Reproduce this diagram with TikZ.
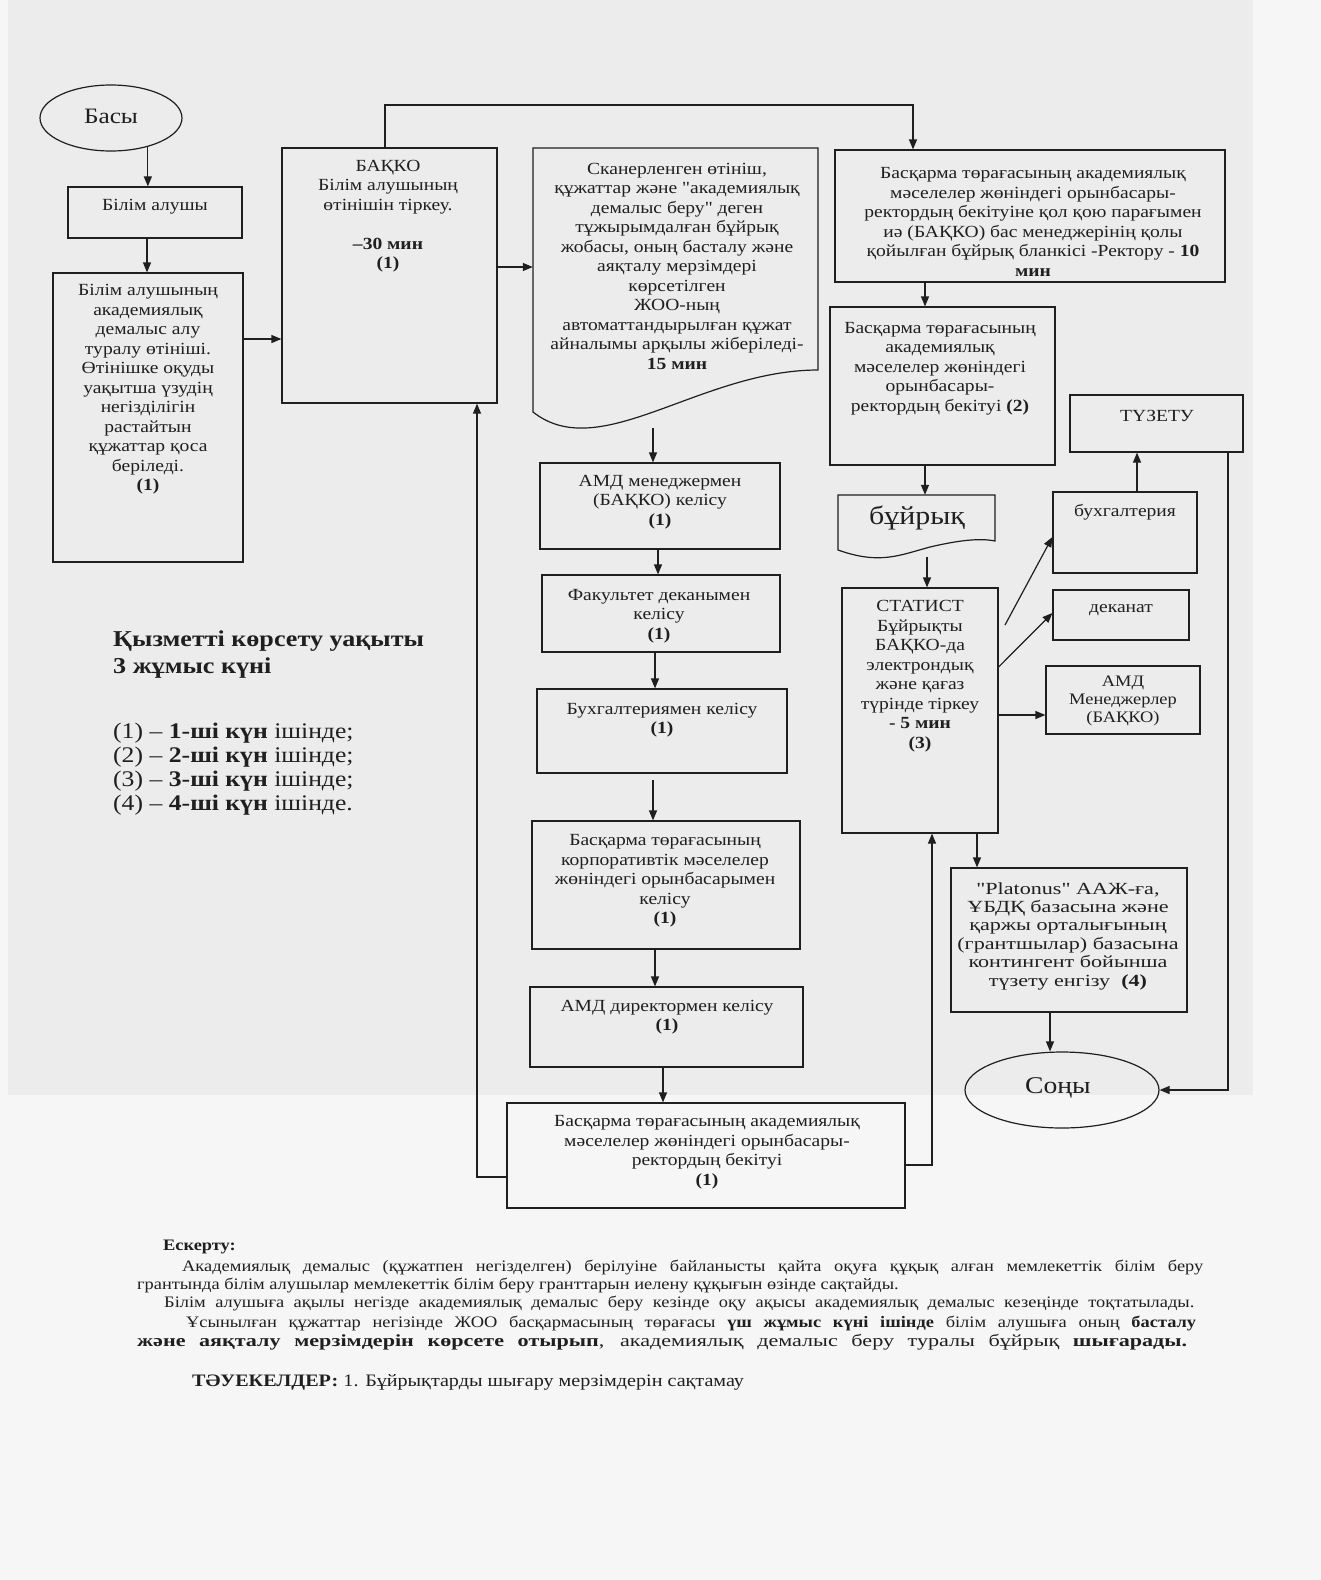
\documentclass[tikz,border=0pt]{standalone}
\usepackage{fontspec}
\setmainfont{Liberation Serif}[FakeStretch=1.15, Ligatures=TeXOff]
\newfontfamily\widefont{Liberation Serif}[FakeStretch=1.3]
\usetikzlibrary{arrows.meta,calc,shapes.geometric}
\definecolor{ink}{gray}{0.12}
\definecolor{paper}{gray}{0.925}
\definecolor{paperlight}{gray}{0.965}
\newcommand\notesize{\fontsize{16}{20}\selectfont}

\begin{document}
\begin{tikzpicture}[x=1pt,y=-1pt,
  every node/.style={inner sep=0pt, text=ink},
  bx/.style={draw=ink, line width=1.2pt, rectangle},
  oval/.style={draw=ink, line width=1.2pt, ellipse},
  txt/.style={align=center, font=\fontsize{17}{19.5}\selectfont},
  ln/.style={draw=ink, line width=1.2pt},
  arr/.style={ln, -{Triangle[length=10pt,width=8pt]}},
  note/.style={anchor=west, font=\notesize},
]
\useasboundingbox (0,0) rectangle (1321,1580);
\fill[paperlight] (0,0) rectangle (1321,1580);
\fill[paper] (8,0) rectangle (1253,1095);

% ---------- left column ----------
\node[oval, minimum width=142pt, minimum height=66pt] (S) at (111,118) {};
\node[font=\fontsize{22}{24}\selectfont] (tS) at (111,116) {Басы};
\node[bx, minimum width=174pt, minimum height=51pt] (A) at (155,212.5) {};
\node[txt] (tA) at (155,207) {Білім алушы};
\node[bx, minimum width=190pt, minimum height=289pt] (B) at (148,417.5) {};
\node[txt] (tB) at (148,389.5) {Білім алушының\\академиялық\\демалыс алу\\туралу өтініші.\\Өтінішке оқуды\\уақытша үзудің\\негізділігін\\растайтын\\құжаттар қоса\\беріледі.\\\textbf{(1)}};

% ---------- registration ----------
\node[bx, minimum width=215pt, minimum height=255pt] (C) at (389.5,275.5) {};
\node[txt] (tC) at (388,216) {БАҚКО\\Білім алушының\\өтінішін тіркеу.\\ \\\textbf{–30 мин}\\\textbf{(1)}};

% ---------- scanned document ----------
\node[minimum width=285pt, minimum height=282pt] (D) at (675.5,289) {};
\draw[ln] (533,148) -- (818,148) -- (818,370) .. controls (700,370) and (600,465) .. (533,412) -- cycle;
\node[txt] (tD) at (677,266) {Сканерленген өтініш,\\құжаттар және "академиялық\\демалыс беру" деген\\тұжырымдалған бұйрық\\жобасы, оның басталу және\\аяқталу мерзімдері\\көрсетілген\\ЖОО-ның\\автоматтандырылған құжат\\айналымы арқылы жіберіледі-\\\textbf{15 мин}};
\coordinate (dOut) at (653,428);

% ---------- middle column ----------
\node[bx, minimum width=240pt, minimum height=86pt] (M1) at (660,506) {};
\node[txt] (tM1) at (660,502) {АМД менеджермен\\(БАҚКО) келісу\\\textbf{(1)}};
\node[bx, minimum width=238pt, minimum height=77pt] (M2) at (661,613.5) {};
\node[txt] (tM2) at (659,616) {Факультет деканымен\\келісу\\\textbf{(1)}};
\node[bx, minimum width=250pt, minimum height=84pt] (M3) at (662,731) {};
\node[txt] (tM3) at (662,720) {Бухгалтериямен келісу\\\textbf{(1)}};
\node[bx, minimum width=268pt, minimum height=128pt] (M4) at (666,885) {};
\node[txt] (tM4) at (665,881) {Басқарма төрағасының\\корпоративтік мәселелер\\жөніндегі орынбасарымен\\келісу\\\textbf{(1)}};
\node[bx, minimum width=273pt, minimum height=80pt] (M5) at (666.5,1027) {};
\node[txt] (tM5) at (667,1017) {АМД директормен келісу\\\textbf{(1)}};
\node[bx, minimum width=398pt, minimum height=105pt] (M6) at (706,1155.5) {};
\node[txt] (tM6) at (707,1152) {Басқарма төрағасының академиялық\\мәселелер жөніндегі орынбасары-\\ректордың бекітуі\\\textbf{(1)}};

% ---------- right column ----------
\node[bx, minimum width=390pt, minimum height=132pt] (E) at (1030,216) {};
\node[txt] (tE) at (1033,222) {Басқарма төрағасының академиялық\\мәселелер жөніндегі орынбасары-\\ректордың бекітуіне қол қою парағымен\\иә (БАҚКО) бас менеджерінің қолы\\қойылған бұйрық бланкісі -Ректору - \textbf{10}\\\textbf{мин}};
\node[bx, minimum width=225pt, minimum height=158pt] (F) at (942.5,386) {};
\node[txt] (tF) at (940,368.5) {Басқарма төрағасының\\академиялық\\мәселелер жөніндегі\\орынбасары-\\ректордың бекітуі \textbf{(2)}};
\node[bx, minimum width=173pt, minimum height=57pt] (TZ) at (1156.5,423.5) {};
\node[txt] (tTZ) at (1157,416) {ТҮЗЕТУ};

\node[minimum width=157pt, minimum height=62pt] (BY) at (916.5,526) {};
\draw[ln] (838,495) -- (995,495) -- (995,541) .. controls (980,538) and (960,540) .. (930,547) .. controls (900,555) and (880,565) .. (838,550) -- cycle;
\node[font=\fontsize{26}{28}\selectfont] (tBY) at (917,518) {бұйрық};

\node[bx, minimum width=156pt, minimum height=245pt] (ST) at (920,710.5) {};
\node[txt] (tST) at (920,676) {СТАТИСТ\\Бұйрықты\\БАҚКО-да\\электрондық\\және қағаз\\түрінде тіркеу\\\textbf{- 5 мин}\\\textbf{(3)}};

\node[bx, minimum width=144pt, minimum height=81pt] (BH) at (1125,532.5) {};
\node[txt] (tBH) at (1125,512) {бухгалтерия};
\node[bx, minimum width=136pt, minimum height=50pt] (DK) at (1121,615) {};
\node[txt] (tDK) at (1121,610) {деканат};
\node[bx, minimum width=154pt, minimum height=68pt] (AM) at (1123,700) {};
\node[txt, font=\fontsize{16}{18}\selectfont] (tAM) at (1123,700.5) {АМД\\Менеджерлер\\(БАҚКО)};

\node[bx, minimum width=236pt, minimum height=144pt] (PL) at (1069,940) {};
\node[txt, font=\widefont\fontsize{17}{18.4}\selectfont] (tPL) at (1068,936) {"Platonus" ААЖ-ға,\\ҰБДҚ базасына және\\қаржы орталығының\\(грантшылар) базасына\\контингент бойынша\\түзету енгізу~ \textbf{(4)}};

\node[oval, minimum width=194pt, minimum height=76pt] (END) at (1062,1090) {};
\node[font=\fontsize{24}{26}\selectfont] (tEND) at (1058,1088) {Соңы};

% ---------- connectors ----------
\draw[arr] (S.-38) -- (S.-38 |- A.north);
\draw[arr] (A.south -| 147,0) -- (B.north -| 147,0);
\draw[arr] (B.east |- 0,339) -- (C.west |- 0,339);
\draw[arr] (C.north -| 385,0) -- (385,105) -- (913,105) -- (E.north -| 913,0);
\draw[arr] (C.east |- 0,267) -- (D.west |- 0,267);
\draw[arr] (dOut) -- (M1.north -| dOut);
\draw[arr] (M1.south -| 658,0) -- (M2.north -| 658,0);
\draw[arr] (M2.south -| 655,0) -- (M3.north -| 655,0);
\draw[arr] (653,780) -- (M4.north -| 653,0);
\draw[arr] (M4.south -| 655,0) -- (M5.north -| 655,0);
\draw[arr] (M5.south -| 663,0) -- (M6.north -| 663,0);
\draw[arr] (M6.west |- 0,1177) -- (477,1177) -- (C.south -| 477,0);
\draw[arr] (M6.east |- 0,1165) -- (932,1165) -- (ST.south -| 932,0);
\draw[arr] (E.south -| 925,0) -- (F.north -| 925,0);
\draw[arr] (F.south -| 925,0) -- (BY.north -| 925,0);
\draw[arr] (927,557) -- (ST.north -| 927,0);
\coordinate (s1) at (1005,625);
\draw[arr] (s1) -- (BH.west |- 0,537);
\draw[arr] (ST.east |- 0,667) -- (DK.west |- 0,613);
\draw[arr] (ST.east |- 0,715) -- (AM.west |- 0,715);
\draw[arr] (BH.north -| 1137,0) -- (TZ.south -| 1137,0);
\draw[arr] (TZ.south -| 1228,0) |- (END.east);
\draw[arr] (ST.south -| 977,0) -- (PL.north -| 977,0);
\draw[arr] (PL.south -| 1050,0) -- (END.north -| 1050,0);

% ---------- legend ----------
\node[anchor=west, align=left, font=\fontsize{22.7}{27}\selectfont\bfseries] (lgT) at (113,654.5) {Қызметті көрсету уақыты\\3 жұмыс күні};
\node[anchor=west, align=left, font=\fontsize{22.3}{24}\selectfont] (lgL) at (113,769) {(1) – \textbf{1-ші күн} ішінде;\\(2) – \textbf{2-ші күн} ішінде;\\(3) – \textbf{3-ші күн} ішінде;\\(4) – \textbf{4-ші күн} ішінде.};

% ---------- notes ----------
\node[note, font=\notesize\bfseries] (n0) at (163,1247) {Ескерту:};
\node[note] (n1) at (182,1267) {\makebox[1021pt][s]{Академиялық демалыс (құжатпен негізделген) берілуіне байланысты қайта оқуға құқық алған мемлекеттік білім беру}};
\node[note] (n2) at (137,1285) {грантында білім алушылар мемлекеттік білім беру гранттарын иелену құқығын өзінде сақтайды.};
\node[note] (n3) at (164,1303) {\makebox[1030pt][s]{Білім алушыға ақылы негізде академиялық демалыс беру кезінде оқу ақысы академиялық демалыс кезеңінде тоқтатылады.}};
\node[note] (n4) at (186,1323) {\makebox[1010pt][s]{Ұсынылған құжаттар негізінде ЖОО басқармасының төрағасы \textbf{үш жұмыс күні ішінде} білім алушыға оның \textbf{басталу}}};
\node[note, font=\widefont\fontsize{17}{20}\selectfont] (n5) at (137,1342) {\makebox[1050pt][s]{\textbf{және аяқталу мерзімдерін көрсете отырып}, академиялық демалыс беру туралы бұйрық \textbf{шығарады.}}};
\node[note, font=\fontsize{17.5}{20}\selectfont] (n6) at (192,1382) {\textbf{ТӘУЕКЕЛДЕР:} 1. Бұйрықтарды шығару мерзімдерін сақтамау};
\end{tikzpicture}
\end{document}
